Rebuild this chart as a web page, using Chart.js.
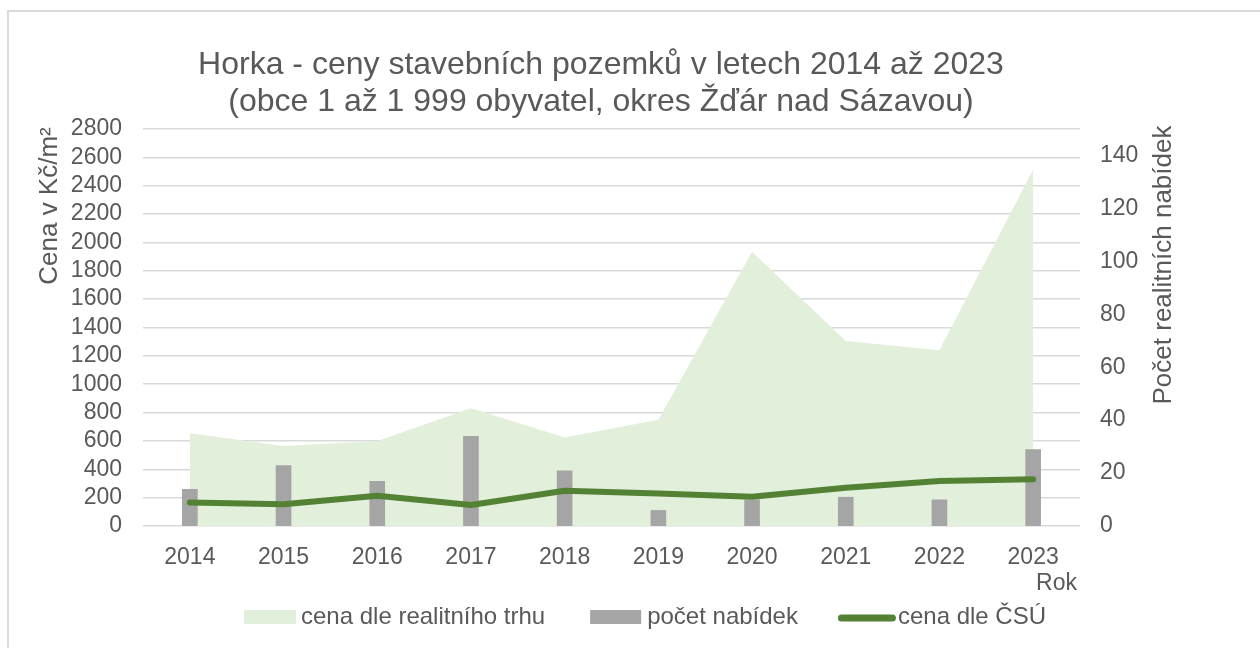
<!DOCTYPE html>
<html lang="cs">
<head>
<meta charset="utf-8">
<title>Horka - ceny stavebních pozemků</title>
<script src="https://cdn.jsdelivr.net/npm/chart.js@4.4.1/dist/chart.umd.min.js"></script>
<style>
    html, body { margin: 0; padding: 0; background: #fff; overflow: hidden; }
    #frame { position: absolute; left: 7px; top: 10px; width: 1300px; height: 700px;
             border: 2px solid #dadada; box-sizing: border-box; }
    #wrap { position: absolute; left: 0; top: 0; width: 1260px; height: 648px; }
</style>
</head>
<body>
<div id="frame"></div>
<div id="wrap"><canvas id="chart" width="1260" height="648"></canvas></div>
<script>
// Data
const years = ['2014', '2015', '2016', '2017', '2018', '2019', '2020', '2021', '2022', '2023'];
const marketPrice = [655, 565, 600, 830, 625, 750, 1935, 1305, 1240, 2515];
const offerCount = [14, 23, 17, 34, 21, 6, 10, 11, 10, 29];
const csuPrice = [165, 153, 214, 148, 249, 230, 207, 270, 317, 329];

const priceTicks = [0, 200, 400, 600, 800, 1000, 1200, 1400, 1600, 1800, 2000, 2200, 2400, 2600, 2800];
const countTicks = [0, 20, 40, 60, 80, 100, 120, 140];

const titleLines = [
    'Horka - ceny stavebních pozemků v letech 2014 až 2023',
    '(obce 1 až 1 999 obyvatel, okres Žďár nad Sázavou)'
];
const priceAxisTitle = 'Cena v Kč/m²';
const countAxisTitle = 'Počet realitních nabídek';
const xAxisTitle = 'Rok';
const seriesNames = ['cena dle realitního trhu', 'počet nabídek', 'cena dle ČSÚ'];

// Colours
const TEXT_COLOR = '#595959';
const AREA_COLOR = '#e2efda';
const BAR_COLOR = '#a5a5a5';
const LINE_COLOR = '#548235';
const GRID_COLOR = '#d9d9d9';
const FONT = '"Liberation Sans", Arial, sans-serif';

Chart.defaults.font.family = FONT;
Chart.defaults.color = TEXT_COLOR;

// Titles, axis titles and legend drawn on top of the chart
const textLayer = {
    id: 'textLayer',
    afterDraw(chart) {
        const ctx = chart.ctx;
        ctx.save();
        ctx.fillStyle = TEXT_COLOR;
        ctx.textBaseline = 'middle';

        // Chart title
        ctx.textAlign = 'center';
        ctx.font = '32px ' + FONT;
        ctx.fillText(titleLines[0], 601, 65);
        ctx.fillText(titleLines[1], 601, 102);

        // Axis titles
        ctx.font = '26px ' + FONT;
        ctx.save();
        ctx.translate(50, 206);
        ctx.rotate(-Math.PI / 2);
        ctx.fillText(priceAxisTitle, 0, 0);
        ctx.restore();

        ctx.save();
        ctx.translate(1164, 265);
        ctx.rotate(-Math.PI / 2);
        ctx.fillText(countAxisTitle, 0, 0);
        ctx.restore();

        ctx.font = '23px ' + FONT;
        ctx.textAlign = 'right';
        ctx.fillText(xAxisTitle, 1077, 584);

        // Legend
        ctx.font = '24px ' + FONT;
        ctx.textAlign = 'left';
        const items = [
            { sym: 52, gap: 5, after: 45 },
            { sym: 51, gap: 6, after: 40 },
            { sym: 58, gap: 2, after: 0 }
        ];
        let total = 0;
        items.forEach((it, i) => {
            it.text = ctx.measureText(seriesNames[i]).width;
            total += it.sym + it.gap + it.text + it.after;
        });
        let x = 645 - total / 2;
        const y = 617;
        items.forEach((it, i) => {
            if (i === 0) {
                ctx.fillStyle = AREA_COLOR;
                ctx.fillRect(x, y - 7, it.sym, 14);
            } else if (i === 1) {
                ctx.fillStyle = BAR_COLOR;
                ctx.fillRect(x, y - 7, it.sym, 14);
            } else {
                ctx.strokeStyle = LINE_COLOR;
                ctx.lineWidth = 7;
                ctx.lineCap = 'round';
                ctx.beginPath();
                ctx.moveTo(x + 3.5, y + 1);
                ctx.lineTo(x + it.sym - 3.5, y + 1);
                ctx.stroke();
            }
            ctx.fillStyle = TEXT_COLOR;
            ctx.fillText(seriesNames[i], x + it.sym + it.gap, y);
            x += it.sym + it.gap + it.text + it.after;
        });
        ctx.restore();
    }
};

const chartCtx = document.getElementById('chart').getContext('2d');
const chart = new Chart(chartCtx, {
    type: 'bar',
    data: {
        labels: years,
        datasets: [
            {
                type: 'line',
                label: seriesNames[0],
                data: marketPrice,
                yAxisID: 'yPrice',
                backgroundColor: AREA_COLOR,
                borderWidth: 0,
                pointRadius: 0,
                fill: 'origin',
                tension: 0,
                order: 3
            },
            {
                type: 'bar',
                label: seriesNames[1],
                data: offerCount,
                yAxisID: 'yCount',
                backgroundColor: BAR_COLOR,
                borderWidth: 0,
                barPercentage: 0.167,
                categoryPercentage: 1.0,
                order: 2
            },
            {
                type: 'line',
                label: seriesNames[2],
                data: csuPrice,
                yAxisID: 'yPrice',
                borderColor: LINE_COLOR,
                borderWidth: 6,
                borderCapStyle: 'round',
                borderJoinStyle: 'round',
                pointRadius: 0,
                fill: false,
                tension: 0,
                order: 1
            }
        ]
    },
    options: {
        responsive: false,
        animation: false,
        devicePixelRatio: 1,
        layout: { padding: { top: 129, left: 0, right: 0, bottom: 0 } },
        plugins: {
            legend: { display: false },
            title: { display: false },
            tooltip: { enabled: false }
        },
        scales: {
            x: {
                type: 'category',
                offset: true,
                grid: { display: false },
                border: { display: false },
                ticks: { font: { size: 23 }, padding: 10, color: TEXT_COLOR },
                afterFit: scale => { scale.height = 122; }
            },
            yPrice: {
                type: 'linear',
                position: 'left',
                min: 0,
                max: 2800,
                afterBuildTicks: scale => { scale.ticks = priceTicks.map(v => ({ value: v })); },
                ticks: {
                    font: { size: 23 },
                    padding: 21,
                    color: TEXT_COLOR,
                    autoSkip: false,
                    callback: value => String(value)
                },
                grid: { color: GRID_COLOR, lineWidth: 1.5, drawTicks: false },
                border: { display: false },
                afterFit: scale => { scale.width = 143; }
            },
            yCount: {
                type: 'linear',
                position: 'right',
                min: 0,
                max: 150,
                afterBuildTicks: scale => { scale.ticks = countTicks.map(v => ({ value: v })); },
                ticks: {
                    font: { size: 23 },
                    padding: 20,
                    color: TEXT_COLOR,
                    autoSkip: false,
                    callback: value => String(value)
                },
                grid: { display: false, drawTicks: false },
                border: { display: false },
                afterFit: scale => { scale.width = 180; }
            }
        }
    },
    plugins: [textLayer]
});
</script>
</body>
</html>
